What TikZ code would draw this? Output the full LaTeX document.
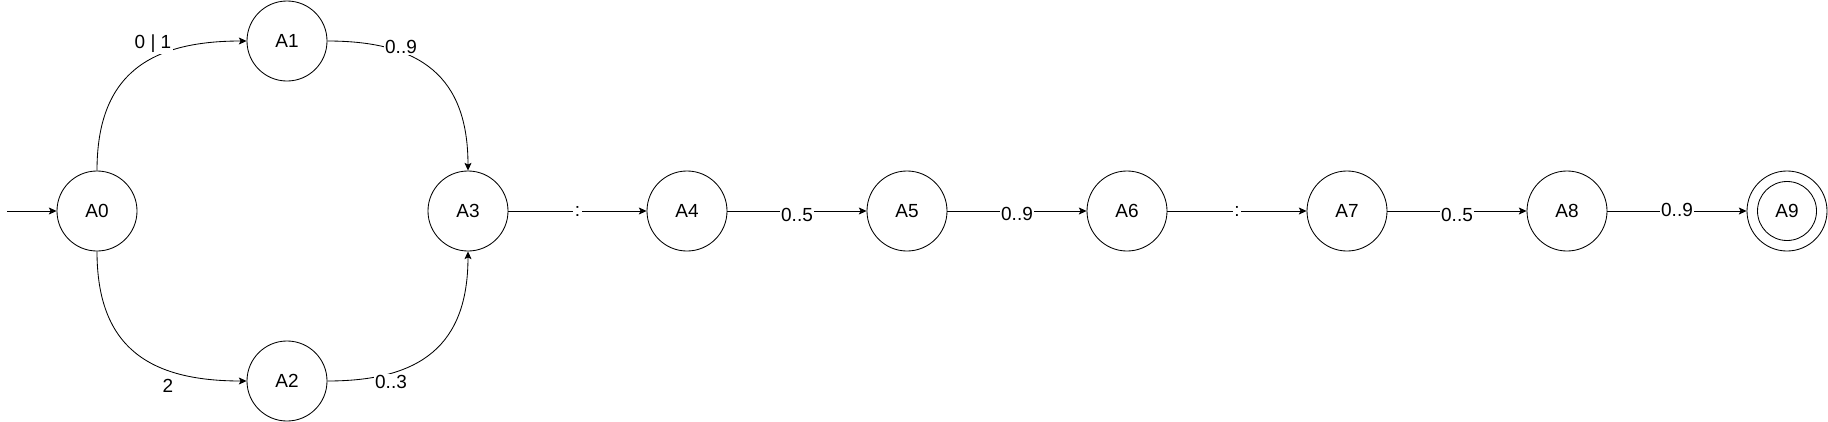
\documentclass[tikz,border=0pt]{standalone}
\usepackage{fontspec}
\setmainfont{Liberation Sans}
\usetikzlibrary{arrows.meta}
\tikzset{
  estado/.style={draw, circle, minimum size=2cm, inner sep=0pt, line width=0.6pt,
    font=\fontsize{13.5}{15}\selectfont},
  trans/.style={line width=0.6pt, -{Stealth[length=5.5pt, width=5pt, inset=1.2pt]}},
  rotulo/.style={fill=white, inner sep=1pt, font=\fontsize{13.5}{15}\selectfont},
}
\begin{document}
\begin{tikzpicture}[x=0.025cm, y=-0.025cm]
  \useasboundingbox (0,0) rectangle (1828,421);
  % estados
  \node[estado] (A0) at (97,211) {A0};
  \node[estado] (A1) at (287,41) {A1};
  \node[estado] (A2) at (287,381) {A2};
  \node[estado] (A3) at (468,211) {A3};
  \node[estado] (A4) at (687,211) {A4};
  \node[estado] (A5) at (907,211) {A5};
  \node[estado] (A6) at (1127,211) {A6};
  \node[estado] (A7) at (1347,211) {A7};
  \node[estado] (A8) at (1567,211) {A8};
  \node[estado] (A9) at (1787,211) {A9};
  \draw[line width=0.6pt] (A9.center) circle (0.7375cm);
  % entrada
  \coordinate (ini) at (7,211);
  \draw[trans] (ini) -- (A0);
  % ramos
  \draw[trans] (A0.north) to[out=90, in=180, looseness=1.25] (A1.west);
  \draw[trans] (A1.east) to[out=0, in=90, looseness=1.25] (A3.north);
  \draw[trans] (A0.south) to[out=-90, in=180, looseness=1.25] (A2.west);
  \draw[trans] (A2.east) to[out=0, in=-90, looseness=1.25] (A3.south);
  \node[rotulo] (r01) at (153,44) {0 | 1};
  \node[rotulo] (r09) at (401,47) {0..9};
  \node[font=\fontsize{13.5}{15}\selectfont] (r2) at (168,386) {2};
  \node[rotulo] (r03) at (391,382) {0..3};
  % cadeia
  \draw[trans] (A3) -- node[rotulo] {:} (A4);
  \draw[trans] (A4) -- node[rotulo, yshift=-3pt] {0..5} (A5);
  \draw[trans] (A5) -- node[rotulo, yshift=-2pt] {0..9} (A6);
  \draw[trans] (A6) -- node[rotulo] {:} (A7);
  \draw[trans] (A7) -- node[rotulo, yshift=-3pt] {0..5} (A8);
  \draw[trans] (A8) -- node[rotulo, yshift=1pt] {0..9} (A9);
\end{tikzpicture}
\end{document}
